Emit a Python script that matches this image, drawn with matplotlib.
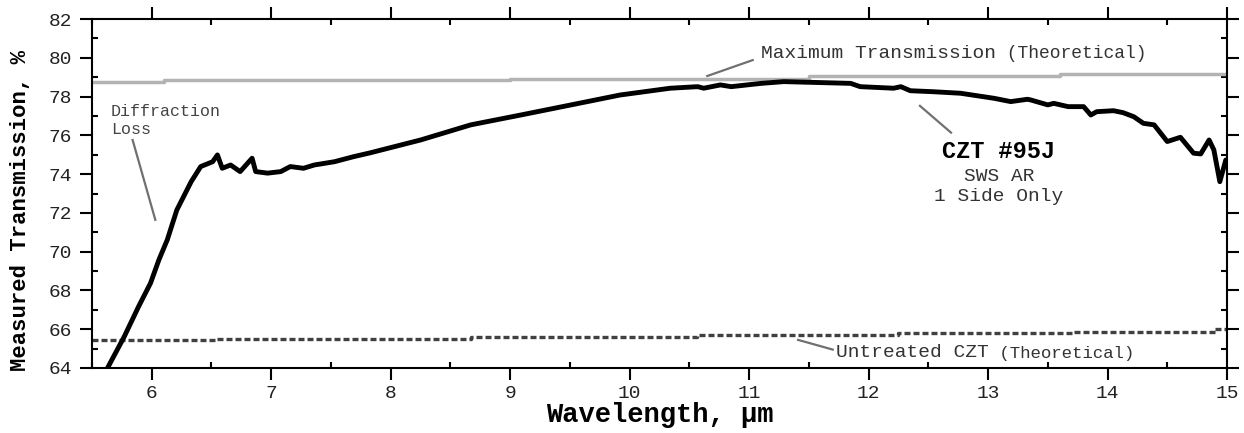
import matplotlib
matplotlib.use("Agg")
import matplotlib.pyplot as plt
from matplotlib.ticker import MultipleLocator

plt.rcParams['font.family'] = ['Liberation Mono', 'DejaVu Sans Mono']

# Measured transmission (CZT #95J, SWS AR one side)
meas_x = [5.63, 5.77, 5.89, 5.99, 6.06, 6.13, 6.21, 6.33, 6.41, 6.51, 6.55, 6.59, 6.66,
          6.74, 6.84, 6.87, 6.97, 7.08, 7.16, 7.27, 7.36, 7.53, 7.69, 7.83, 8.25, 8.67,
          9.09, 9.51, 9.92, 10.34, 10.57, 10.62, 10.76, 10.85, 11.10, 11.29, 11.85, 11.93,
          12.21, 12.27, 12.35, 12.54, 12.77, 13.05, 13.19, 13.33, 13.36, 13.50, 13.55,
          13.67, 13.80, 13.86, 13.91, 14.05, 14.13, 14.22, 14.30, 14.39, 14.50, 14.61,
          14.72, 14.78, 14.85, 14.89, 14.94, 14.99]
meas_y = [64.0, 65.62, 67.17, 68.38, 69.58, 70.61, 72.15, 73.61, 74.39, 74.64, 74.99, 74.30,
          74.47, 74.13, 74.82, 74.13, 74.05, 74.13, 74.39, 74.30, 74.47, 74.64, 74.90, 75.10,
          75.76, 76.54, 77.05, 77.57, 78.08, 78.43, 78.51, 78.43, 78.60, 78.51, 78.68, 78.77,
          78.68, 78.51, 78.43, 78.51, 78.30, 78.25, 78.17, 77.91, 77.74, 77.86, 77.82, 77.57,
          77.65, 77.48, 77.48, 77.05, 77.22, 77.27, 77.17, 76.96, 76.62, 76.54, 75.68, 75.90,
          75.08, 75.04, 75.76, 75.25, 73.61, 74.73]

# Maximum transmission (theoretical) - step values
max_edges = [5.5, 6.1, 9.0, 11.5, 13.6, 15.0]
max_vals = [78.75, 78.85, 78.93, 79.05, 79.15]

# Untreated CZT (theoretical) - step values
unt_edges = [5.5, 6.55, 8.67, 10.56, 12.25, 13.7, 14.9, 15.0]
unt_vals = [65.42, 65.52, 65.62, 65.72, 65.80, 65.88, 66.0]

x_ticks = [6, 7, 8, 9, 10, 11, 12, 13, 14, 15]
y_ticks = [64, 66, 68, 70, 72, 74, 76, 78, 80, 82]


def step_xy(edges, vals):
    xs, ys = [], []
    for i, v in enumerate(vals):
        xs += [edges[i], edges[i + 1]]
        ys += [v, v]
    return xs, ys


fig = plt.figure(figsize=(12.44, 4.33), dpi=100)
ax = fig.add_axes([92 / 1244, 1 - 368 / 433, (1227 - 92) / 1244, (368 - 19) / 433])

mx, my = step_xy(max_edges, max_vals)
ax.plot(mx, my, color='#b3b3b3', lw=2.5, solid_capstyle='butt', zorder=2)

ux, uy = step_xy(unt_edges, unt_vals)
ax.plot(ux, uy, color='#404040', lw=2.4, linestyle=(0, (1.8, 0.9)),
        dash_capstyle='butt', zorder=2)

ax.plot(meas_x, meas_y, color='black', lw=3.5, solid_joinstyle='round',
        solid_capstyle='round', zorder=3, clip_on=True)

ax.set_xlim(5.5, 15)
ax.set_ylim(64, 82)

ax.set_xticks(x_ticks)
ax.set_yticks(y_ticks)
ax.xaxis.set_minor_locator(MultipleLocator(0.5))
ax.yaxis.set_minor_locator(MultipleLocator(1))

ax.tick_params(which='major', direction='out', length=8.5, width=1.5,
               top=True, right=True, labelsize=14, labelcolor='#222222', pad=4)
ax.tick_params(which='minor', direction='in', length=4.5, width=1.5,
               top=True, right=True)
ax.tick_params(axis='y', which='major', pad=6)
for s in ax.spines.values():
    s.set_linewidth(1.5)

ax.set_xlabel('Wavelength, µm', fontsize=19.5, fontweight='bold', labelpad=0)
ax.set_ylabel('Measured Transmission, %', fontsize=16, fontweight='bold')
ax.yaxis.set_label_coords(-0.054, 0.45)

ann_col = '#707070'
# Diffraction loss
ax.plot([5.84, 6.03], [75.76, 71.64], color=ann_col, lw=1.6, zorder=2)
ax.text(5.66, 77.6, 'Diffraction\nLoss', fontsize=12, color='#444444',
        ha='left', va='top', linespacing=1.2)

# Maximum transmission label
ax.plot([10.65, 11.03], [79.06, 79.88], color=ann_col, lw=1.6, zorder=2)
t1 = ax.text(11.1, 80.0, 'Maximum Transmission', fontsize=14, color='#333333',
             ha='left', va='baseline')
ax.annotate(' (Theoretical)', xy=(1, 0), xycoords=t1, fontsize=13,
            color='#333333', ha='left', va='bottom')

# CZT label
ax.plot([12.43, 12.69], [77.52, 76.14], color=ann_col, lw=1.6, zorder=2)
ax.text(13.09, 75.15, 'CZT #95J', fontsize=17, fontweight='bold', color='black',
        ha='center', va='center')
ax.text(13.09, 73.86, 'SWS AR', fontsize=14, color='#333333', ha='center', va='center')
ax.text(13.09, 72.82, '1 Side Only', fontsize=14, color='#333333', ha='center', va='center')

# Untreated label
ax.plot([11.41, 11.7], [65.45, 64.95], color=ann_col, lw=1.6, zorder=2)
t2 = ax.text(11.73, 64.55, 'Untreated CZT', fontsize=14, color='#333333',
             ha='left', va='baseline')
ax.annotate(' (Theoretical)', xy=(1, 0), xycoords=t2, fontsize=12.5,
            color='#333333', ha='left', va='bottom')

fig.savefig('out.png', dpi=100)
